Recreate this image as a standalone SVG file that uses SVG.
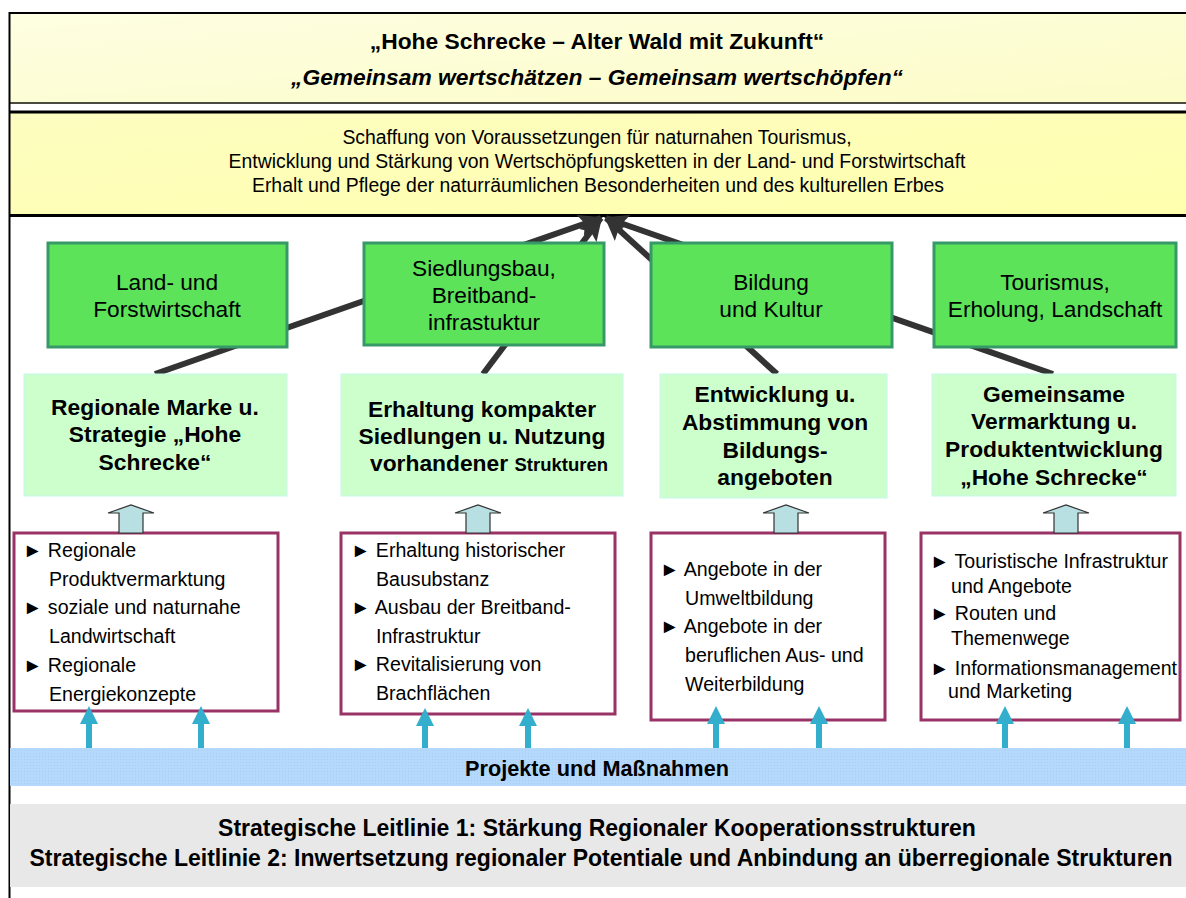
<svg xmlns="http://www.w3.org/2000/svg" width="1186" height="898" viewBox="0 0 1186 898">
<defs>
<style>
text{font-family:"Liberation Sans",Arial,sans-serif;fill:#000}
.t{font-size:22.8px;font-weight:bold;text-anchor:middle}
.y{font-size:19.4px;text-anchor:middle}
.g{font-size:22.7px;text-anchor:middle}
.lg{font-size:22.8px;font-weight:bold;text-anchor:middle}
.p{font-size:19.6px}
.band{font-size:21.7px;font-weight:bold;text-anchor:middle}
.ll{font-size:23px;font-weight:bold;text-anchor:middle}
.gbox{fill:#5ce35a;stroke:#379868;stroke-width:3}
.lbox{fill:#ccffcc;stroke:#c4f7ec;stroke-width:1}
.pbox{fill:#fff;stroke:#993366;stroke-width:3}
.barrow{fill:#b8dfe2;stroke:#333;stroke-width:1.2}
.con{stroke:#333;stroke-width:6;fill:none;marker-end:url(#ah)}
.up{fill:#33aecc}
</style>
<linearGradient id="gy1" x1="0" y1="0" x2="1" y2="1">
<stop offset="0" stop-color="#fefee2"/><stop offset="1" stop-color="#fcfcc8"/>
</linearGradient>
<linearGradient id="gy2" x1="0" y1="0" x2="1" y2="1">
<stop offset="0" stop-color="#fdfdc0"/><stop offset="1" stop-color="#ffffae"/>
</linearGradient>
<pattern id="dots" width="3" height="3" patternUnits="userSpaceOnUse">
<rect width="3" height="3" fill="#b4d9fc"/><rect width="1" height="1" fill="#a8cdf2"/>
</pattern>
<marker id="ah" markerUnits="userSpaceOnUse" markerWidth="26" markerHeight="22" refX="22" refY="11" orient="auto">
<path d="M0,0 L24,11 L0,22 L5,11 z" fill="#333"/>
</marker>
</defs>

<g id="header">
<rect x="9" y="12" width="1180" height="91" fill="url(#gy1)"/>
<line x1="9" y1="13" x2="1186" y2="13" stroke="#000" stroke-width="2"/>
<line x1="9" y1="103" x2="1186" y2="103" stroke="#4a4a40" stroke-width="2"/>
<text class="t" x="597" y="49">„Hohe Schrecke – Alter Wald mit Zukunft“</text>
<text class="t" x="597" y="85" font-style="italic">„Gemeinsam wertschätzen – Gemeinsam wertschöpfen“</text>
</g>

<g id="goals">
<rect x="9" y="112" width="1180" height="103" fill="url(#gy2)"/>
<line x1="9" y1="112" x2="1186" y2="112" stroke="#000" stroke-width="3"/>
<line x1="9" y1="215.5" x2="1186" y2="215.5" stroke="#000" stroke-width="3"/>
<text class="y" x="597" y="144">Schaffung von Voraussetzungen für naturnahen Tourismus,</text>
<text class="y" x="597" y="168">Entwicklung und Stärkung von Wertschöpfungsketten in der Land- und Forstwirtschaft</text>
<text class="y" x="598" y="192">Erhalt und Pflege der naturräumlichen Besonderheiten und des kulturellen Erbes</text>
</g>

<line x1="9.5" y1="12" x2="9.5" y2="898" stroke="#000" stroke-width="2"/>

<g id="connectors">
<line class="con" x1="155" y1="374" x2="601" y2="218"/>
<line class="con" x1="483" y1="374" x2="601" y2="218"/>
<line class="con" x1="777" y1="374" x2="606" y2="218"/>
<line class="con" x1="1053" y1="374" x2="606" y2="218"/>
</g>

<g id="field1">
<rect class="gbox" x="48" y="243" width="239" height="104"/>
<text class="g" x="167" y="290">Land- und</text>
<text class="g" x="167" y="317">Forstwirtschaft</text>
</g>
<g id="field2">
<rect class="gbox" x="364" y="243" width="240" height="102"/>
<text class="g" x="484" y="276">Siedlungsbau,</text>
<text class="g" x="484" y="303">Breitband-</text>
<text class="g" x="484" y="330">infrastuktur</text>
</g>
<g id="field3">
<rect class="gbox" x="651" y="243" width="241" height="104"/>
<text class="g" x="771" y="290">Bildung</text>
<text class="g" x="771" y="317">und Kultur</text>
</g>
<g id="field4">
<rect class="gbox" x="934" y="243" width="242" height="104"/>
<text class="g" x="1055" y="290">Tourismus,</text>
<text class="g" x="1055" y="317">Erholung, Landschaft</text>
</g>

<g id="goal1">
<rect class="lbox" x="24" y="374" width="263" height="122"/>
<text class="lg" x="155" y="415">Regionale Marke u.</text>
<text class="lg" x="155" y="442">Strategie „Hohe</text>
<text class="lg" x="155" y="470">Schrecke“</text>
</g>
<g id="goal2">
<rect class="lbox" x="341" y="374" width="282" height="122"/>
<text class="lg" x="482" y="417">Erhaltung kompakter</text>
<text class="lg" x="482" y="444">Siedlungen u. Nutzung</text>
<text class="lg" x="489" y="471">vorhandener <tspan font-size="18.5px">Strukturen</tspan></text>
</g>
<g id="goal3">
<rect class="lbox" x="660" y="374" width="227" height="124"/>
<text class="lg" x="775" y="402">Entwicklung u.</text>
<text class="lg" x="775" y="430">Abstimmung von</text>
<text class="lg" x="775" y="458">Bildungs-</text>
<text class="lg" x="775" y="485">angeboten</text>
</g>
<g id="goal4">
<rect class="lbox" x="932" y="374" width="244" height="122"/>
<text class="lg" x="1054" y="402">Gemeinsame</text>
<text class="lg" x="1054" y="429">Vermarktung u.</text>
<text class="lg" x="1054" y="457">Produktentwicklung</text>
<text class="lg" x="1054" y="485">„Hohe Schrecke“</text>
</g>

<g id="measures1">
<rect class="pbox" x="14" y="533" width="264" height="178"/>
<path class="barrow" d="M108,513 L131,505 L154,513 L143,513 L143,533 L119,533 L119,513 z"/>
<text class="p" x="23" y="557">► Regionale</text>
<text class="p" x="49" y="586">Produktvermarktung</text>
<text class="p" x="23" y="614">► soziale und naturnahe</text>
<text class="p" x="49" y="643">Landwirtschaft</text>
<text class="p" x="23" y="672">► Regionale</text>
<text class="p" x="49" y="701">Energiekonzepte</text>
</g>
<g id="measures2">
<rect class="pbox" x="341" y="533" width="274" height="181"/>
<path class="barrow" d="M455,513 L478,505 L501,513 L490,513 L490,533 L466,533 L466,513 z"/>
<text class="p" x="351" y="557">► Erhaltung historischer</text>
<text class="p" x="376" y="586">Bausubstanz</text>
<text class="p" x="351" y="614">► Ausbau der Breitband-</text>
<text class="p" x="376" y="643">Infrastruktur</text>
<text class="p" x="351" y="671">► Revitalisierung von</text>
<text class="p" x="376" y="700">Brachflächen</text>
</g>
<g id="measures3">
<rect class="pbox" x="651" y="533" width="234" height="187"/>
<path class="barrow" d="M763,513 L786,505 L809,513 L798,513 L798,533 L774,533 L774,513 z"/>
<text class="p" x="660" y="576">► Angebote in der</text>
<text class="p" x="685" y="605">Umweltbildung</text>
<text class="p" x="660" y="633">► Angebote in der</text>
<text class="p" x="685" y="662">beruflichen Aus- und</text>
<text class="p" x="685" y="691">Weiterbildung</text>
</g>
<g id="measures4">
<rect class="pbox" x="921" y="533" width="259" height="187"/>
<path class="barrow" d="M1043,513 L1066,505 L1089,513 L1078,513 L1078,533 L1054,533 L1054,513 z"/>
<text class="p" x="930" y="568">► Touristische Infrastruktur</text>
<text class="p" x="951" y="593">und Angebote</text>
<text class="p" x="930" y="620">► Routen und</text>
<text class="p" x="951" y="645">Themenwege</text>
<text class="p" x="930" y="675">► Informationsmanagement</text>
<text class="p" x="948" y="698">und Marketing</text>
</g>

<g id="projekte">
<rect x="10" y="748" width="1176" height="38" fill="url(#dots)"/>
<text class="band" x="597" y="776">Projekte und Maßnahmen</text>
</g>

<g id="inputs">
<path class="up" d="M80,724 L89,706 L98,724 L92,724 L92,748 L86,748 L86,724 z"/>
<path class="up" d="M192,724 L201,706 L210,724 L204,724 L204,748 L198,748 L198,724 z"/>
<path class="up" d="M416,726 L425,708 L434,726 L428,726 L428,748 L422,748 L422,726 z"/>
<path class="up" d="M519,726 L528,708 L537,726 L531,726 L531,748 L525,748 L525,726 z"/>
<path class="up" d="M707,724 L716,706 L725,724 L719,724 L719,748 L713,748 L713,724 z"/>
<path class="up" d="M810,724 L819,706 L828,724 L822,724 L822,748 L816,748 L816,724 z"/>
<path class="up" d="M996,724 L1005,706 L1014,724 L1008,724 L1008,748 L1002,748 L1002,724 z"/>
<path class="up" d="M1118,724 L1127,706 L1136,724 L1130,724 L1130,748 L1124,748 L1124,724 z"/>
</g>

<g id="leitlinien">
<rect x="10" y="804" width="1176" height="83" fill="#e8e8e8"/>
<text class="ll" x="597" y="836">Strategische Leitlinie 1: Stärkung Regionaler Kooperationsstrukturen</text>
<text class="ll" x="601" y="866">Strategische Leitlinie 2: Inwertsetzung regionaler Potentiale und Anbindung an überregionale Strukturen</text>
</g>
</svg>
